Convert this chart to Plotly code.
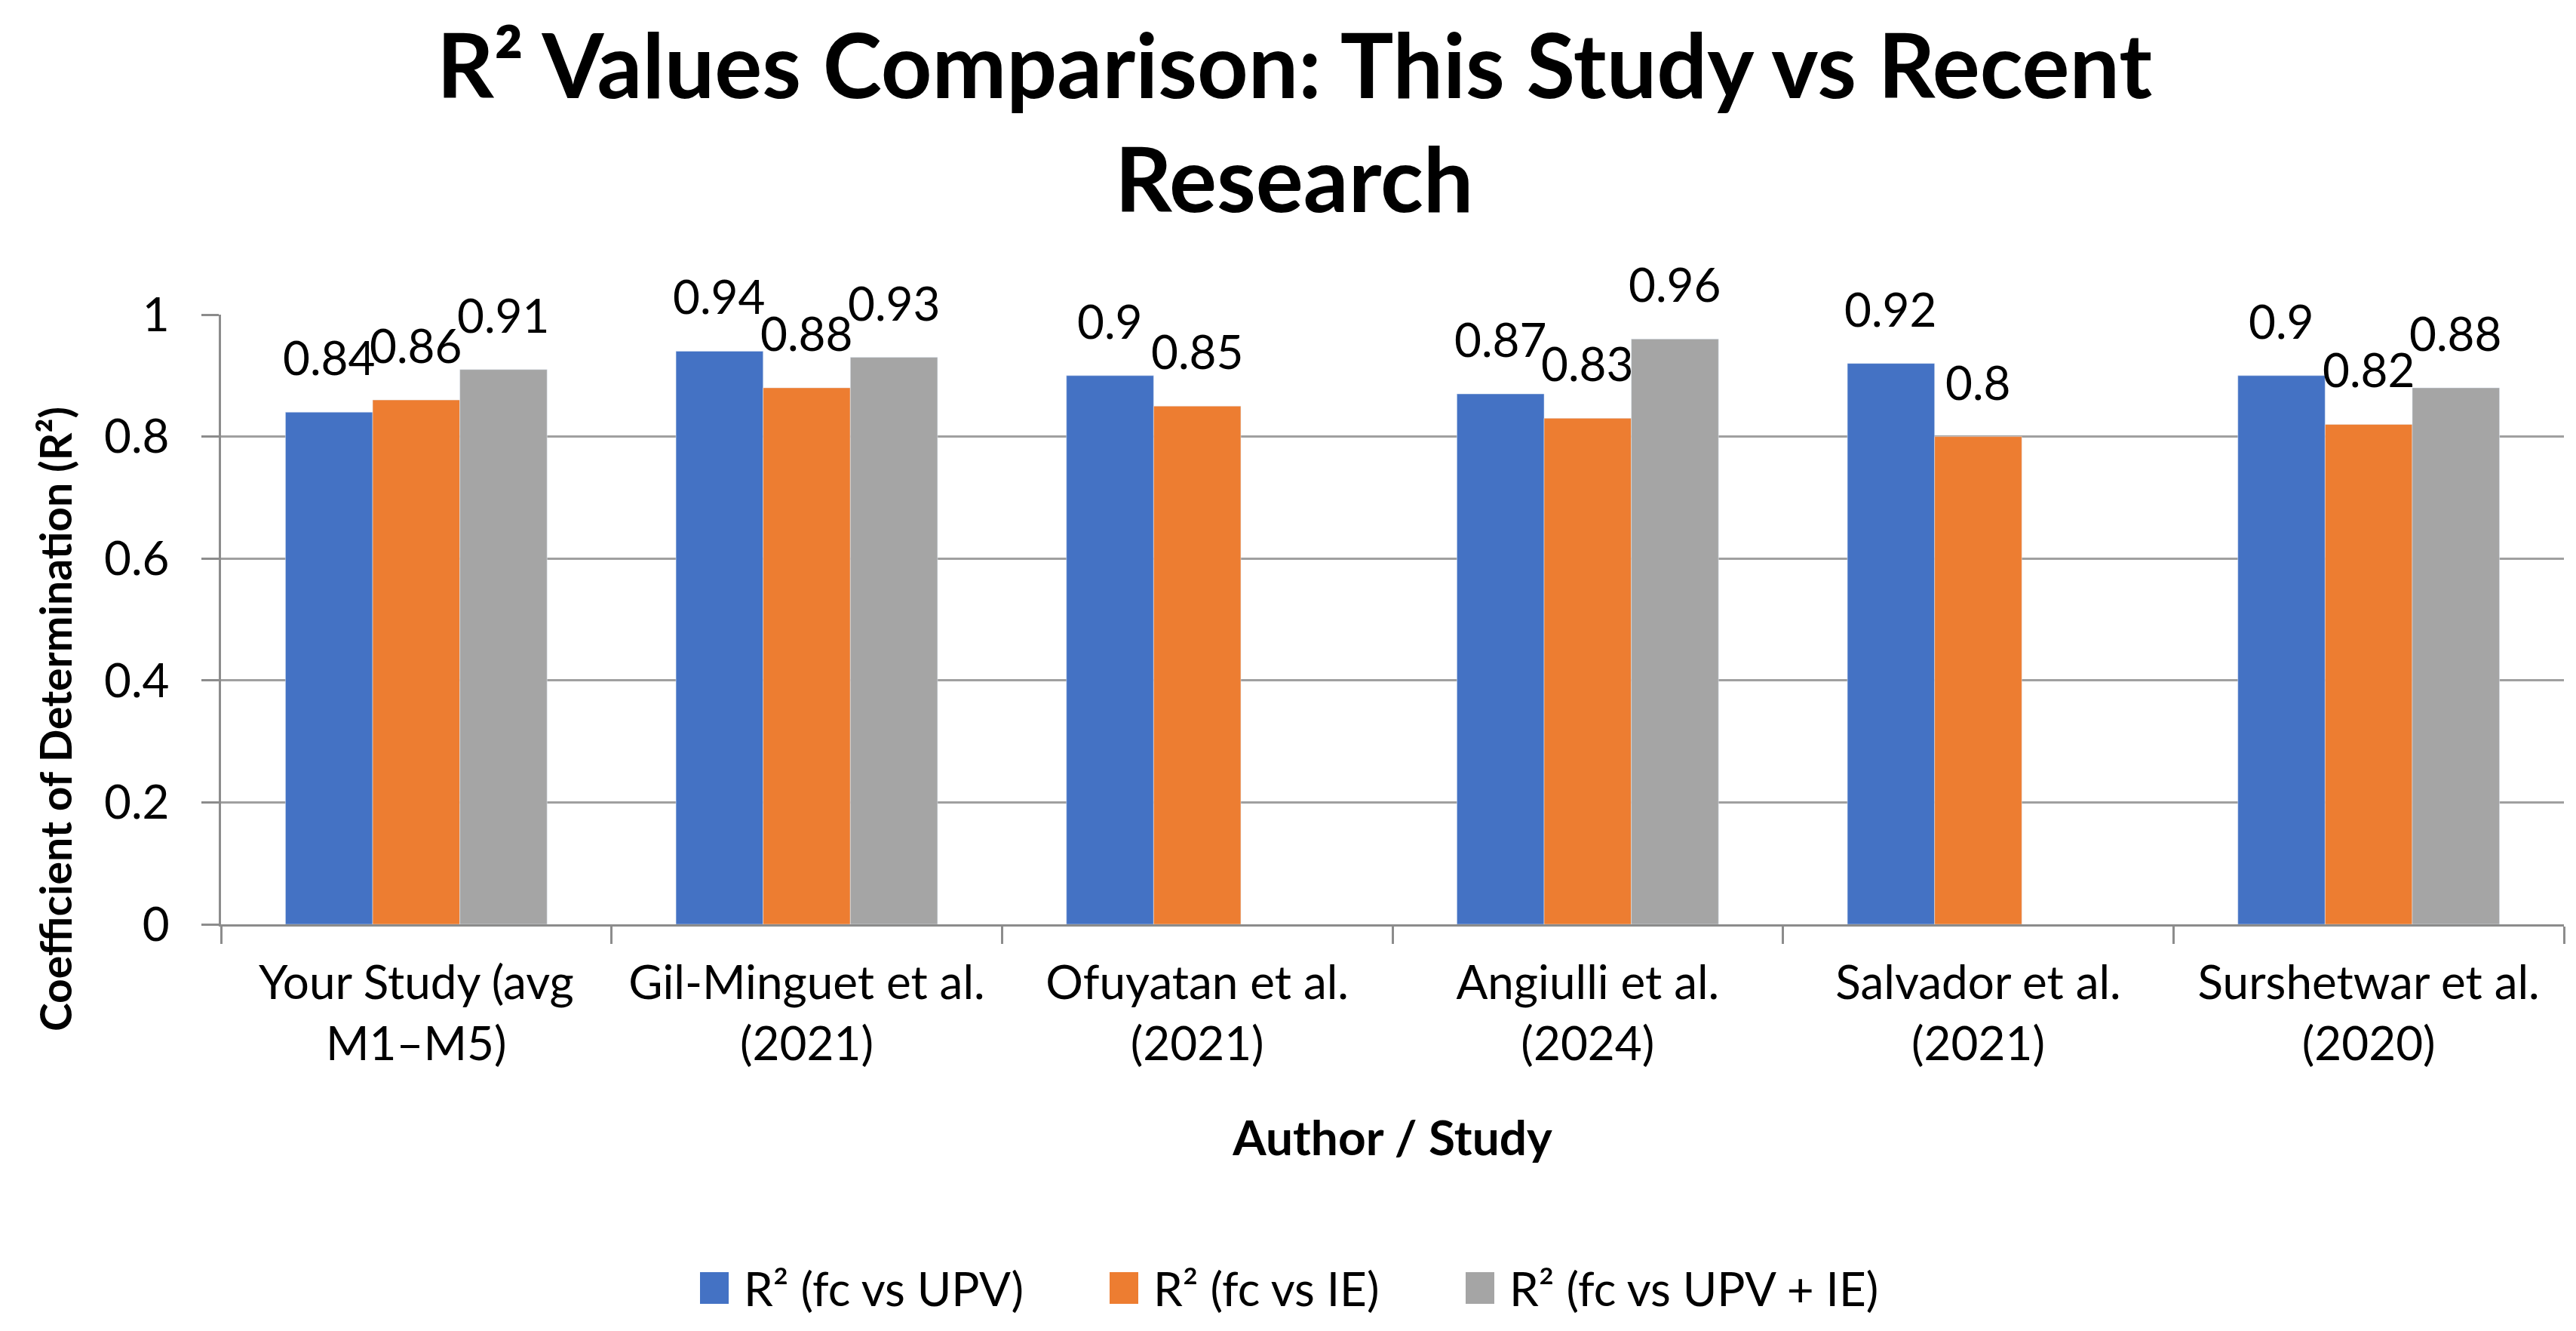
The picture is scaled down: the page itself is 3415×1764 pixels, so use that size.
import plotly.graph_objects as go

categories = ["Your Study (avg<br>M1–M5)", "Gil-Minguet et al.<br>(2021)", "Ofuyatan et al.<br>(2021)",
              "Angiulli et al.<br>(2024)", "Salvador et al.<br>(2021)", "Surshetwar et al.<br>(2020)"]
r2_upv = [0.84, 0.94, 0.90, 0.87, 0.92, 0.90]
r2_ie = [0.86, 0.88, 0.85, 0.83, 0.80, 0.82]
r2_upv_ie = [0.91, 0.93, None, 0.96, None, 0.88]
series_names = ["R² (fc vs UPV)", "R² (fc vs IE)", "R² (fc vs UPV + IE)"]
colors = ["#4472C4", "#ED7D31", "#A5A5A5"]

FONT = "Lato"
W, H = 3415, 1764
ML, MR, MT, MB = 285, 24, 409, 547
BARGAP = 0.33
plot_w = W - ML - MR
plot_h = H - MT - MB
bar_px = plot_w / len(categories) * (1 - BARGAP) / 3
LABEL_LIFT = 73


def px_x(px):
    return (px - ML) / plot_w


def px_y(py):
    return (H - MB - py) / plot_h


fig = go.Figure()
all_series = [r2_upv, r2_ie, r2_upv_ie]
for name, vals, col in zip(series_names, all_series, colors):
    fig.add_trace(go.Bar(x=categories, y=vals, name=name, marker_color=col, showlegend=False))

# data labels above bars
for k, vals in enumerate(all_series):
    for cat, v in zip(categories, vals):
        if v is None:
            continue
        fig.add_annotation(x=cat, y=v, xref="x", yref="y", text=f"{v:g}", showarrow=False,
                           xanchor="center", yanchor="middle",
                           xshift=(k - 1) * bar_px, yshift=LABEL_LIFT,
                           font=dict(family=FONT, size=62, color="#000000"))

# title (two lines)
for txt, py in [("<b>R² Values Comparison: This Study vs Recent</b>", 76),
                ("<b>Research</b>", 228)]:
    fig.add_annotation(text=txt, xref="paper", yref="paper", x=px_x(W / 2), y=px_y(py),
                       xanchor="center", yanchor="middle", showarrow=False,
                       font=dict(family=FONT, size=118, color="#000000"))

# y-axis title (placed as in the reference, slightly below the plot centre)
fig.add_annotation(text="<b>Coefficient of Determination (R²)</b>", xref="paper", yref="paper",
                   x=px_x(65), y=px_y(945), xanchor="center", yanchor="middle", textangle=-90,
                   showarrow=False, font=dict(family=FONT, size=57, color="#000000"))

# legend (manual, square swatches)
legend_left = [920, 1463, 1935]
LEG_Y = 1699
SW = 38
for name, col, lx in zip(series_names, colors, legend_left):
    fig.add_shape(type="rect", xref="paper", yref="paper",
                  x0=px_x(lx), x1=px_x(lx + SW), y0=px_y(LEG_Y + 21), y1=px_y(LEG_Y - 21),
                  fillcolor=col, line=dict(width=0))
    fig.add_annotation(text=name, xref="paper", yref="paper", x=px_x(lx + SW + 18), y=px_y(LEG_Y),
                       xanchor="left", yanchor="middle", showarrow=False,
                       font=dict(family=FONT, size=62, color="#000000"))

fig.update_layout(
    width=W, height=H,
    paper_bgcolor="white", plot_bgcolor="white",
    barmode="group", bargap=BARGAP, bargroupgap=0,
    margin=dict(l=ML, r=MR, t=MT, b=MB),
    font=dict(family=FONT, color="#000000"),
    showlegend=False,
)
fig.update_xaxes(
    showline=True, linecolor="#8C8C8C", linewidth=3,
    ticks="outside", tickson="boundaries", ticklen=23, tickcolor="#8C8C8C", tickwidth=3,
    tickfont=dict(family=FONT, size=62), ticklabelstandoff=22,
    title=dict(text="<b>Author / Study</b>", font=dict(family=FONT, size=64), standoff=70),
)
fig.update_yaxes(
    range=[0, 1], dtick=0.2, showgrid=True, gridcolor="#A0A0A0", gridwidth=3,
    showline=True, linecolor="#8C8C8C", linewidth=3,
    ticks="outside", ticklen=23, tickcolor="#8C8C8C", tickwidth=3,
    tickfont=dict(family=FONT, size=62), zeroline=False, ticklabelstandoff=30,
)
fig.write_html("out.html")
